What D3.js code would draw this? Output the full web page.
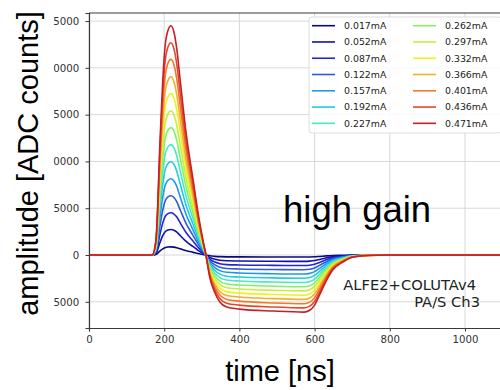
<!DOCTYPE html>
<html><head><meta charset="utf-8">
<script src="https://cdn.jsdelivr.net/npm/d3@7"></script>
<style>body{margin:0;background:#fff}svg{display:block}</style>
</head><body>
<svg id="c" width="500" height="390"></svg>
<script>
const timeNs = [0,160,168,178,189,196,202,210,218,226,233,243,259,277,290,303,311,321,335,348,366,400,490,572,587,600,613,632,648,675,700,740,790,1100];
const currents = ["0.017mA","0.052mA","0.087mA","0.122mA","0.157mA","0.192mA","0.227mA","0.262mA","0.297mA","0.332mA","0.366mA","0.401mA","0.436mA","0.471mA"];
const s017 = [0,0,0,57,437,657,786,853,870,845,786,657,454,284,160,57,0,-84,-144,-178,-197,-205,-213,-217,-210,-190,-152,-95,-57,-27,-9,-2,0,0];
const s052 = [0,0,0,177,1370,2061,2468,2675,2730,2651,2468,2061,1425,893,502,177,0,-262,-453,-560,-620,-644,-669,-680,-658,-595,-478,-298,-177,-85,-27,-5,0,0];
const s087 = [0,0,0,293,2264,3405,4077,4420,4510,4379,4077,3405,2354,1475,830,293,0,-433,-749,-925,-1024,-1064,-1105,-1123,-1087,-983,-789,-492,-293,-140,-45,-9,0,0];
const s122 = [0,0,0,411,3178,4779,5722,6203,6330,6146,5722,4779,3304,2070,1165,411,0,-608,-1051,-1298,-1437,-1494,-1551,-1576,-1526,-1380,-1108,-690,-411,-196,-63,-13,0,0];
const s157 = [0,0,0,530,4091,6153,7368,7987,8150,7914,7368,6153,4254,2665,1500,530,0,-782,-1353,-1671,-1850,-1923,-1997,-2029,-1964,-1777,-1426,-888,-530,-253,-82,-16,0,0];
const s192 = [0,0,0,648,5005,7527,9013,9771,9970,9681,9013,7527,5204,3260,1834,648,0,-957,-1655,-2044,-2263,-2353,-2443,-2483,-2403,-2173,-1745,-1087,-648,-309,-100,-20,0,0];
const s227 = [0,0,0,766,5919,8901,10658,11554,11790,11448,10658,8901,6154,3855,2169,766,0,-1132,-1957,-2417,-2676,-2782,-2889,-2936,-2841,-2570,-2063,-1285,-766,-365,-118,-24,0,0];
const s262 = [0,0,0,885,6832,10276,12303,13338,13610,13215,12303,10276,7104,4450,2504,885,0,-1307,-2259,-2790,-3089,-3212,-3334,-3389,-3280,-2967,-2382,-1483,-885,-422,-136,-27,0,0];
const s297 = [0,0,0,1001,7731,11627,13922,15092,15400,14953,13922,11627,8039,5036,2834,1001,0,-1478,-2556,-3157,-3496,-3634,-3773,-3835,-3711,-3357,-2695,-1679,-1001,-477,-154,-31,0,0];
const s332 = [0,0,0,1121,8660,13024,15594,16905,17250,16750,15594,13024,9005,5641,3174,1121,0,-1656,-2864,-3536,-3916,-4071,-4226,-4295,-4157,-3761,-3019,-1880,-1121,-535,-173,-35,0,0];
const s366 = [0,0,0,1238,9558,14375,17212,18659,19040,18488,17212,14375,9939,6226,3503,1238,0,-1828,-3161,-3903,-4322,-4493,-4665,-4741,-4589,-4151,-3332,-2075,-1238,-590,-190,-38,0,0];
const s401 = [0,0,0,1359,10492,15780,18894,20482,20900,20294,18894,15780,10910,6834,3846,1359,0,-2006,-3469,-4285,-4744,-4932,-5121,-5204,-5037,-4556,-3658,-2278,-1359,-648,-209,-42,0,0];
const s436 = [0,0,0,1474,11385,17123,20503,22226,22680,22022,20503,17123,11839,7416,4173,1474,0,-2177,-3765,-4649,-5148,-5352,-5557,-5647,-5466,-4944,-3969,-2472,-1474,-703,-227,-45,0,0];
const s471 = [0,0,0,1600,12300,18500,22150,24000,24500,23800,22150,18500,12800,8000,4500,1600,0,-2350,-4060,-5030,-5560,-5780,-5990,-6100,-5900,-5350,-4280,-2680,-1600,-750,-250,-50,0,0];
const seriesValues = [s017,s052,s087,s122,s157,s192,s227,s262,s297,s332,s366,s401,s436,s471];
const xTicks = [0,200,400,600,800,1000];
const yTicks = [-5000,0,5000,10000,15000,20000,25000];

const colors = ["#0a0a80","#1212aa","#2424d8","#2c5cd8","#2294ea","#22cae2","#44eac4","#84f064","#c2f040","#f0f020","#f0b030","#f27828","#e04828","#c81e28"];

const svg = d3.select("#c");
const L = 89, R = 502.6, T = 13, B = 328;
const x = d3.scaleLinear().domain([0,1100]).range([L,R]);
const y = d3.scaleLinear().domain([-7800,25860]).range([B,T]);

const defs = svg.append("defs");
defs.append("clipPath").attr("id","plot")
  .append("rect").attr("x",L).attr("y",T).attr("width",R-L).attr("height",B-T);
defs.append("clipPath").attr("id","ylab")
  .append("rect").attr("x",53.4).attr("y",0).attr("width",60).attr("height",390);

// grid
const grid = svg.append("g").attr("stroke","#d4d4d4").attr("stroke-width",0.9);
xTicks.forEach(t => grid.append("line").attr("x1",x(t)).attr("x2",x(t)).attr("y1",T).attr("y2",B));
yTicks.forEach(t => grid.append("line").attr("x1",L).attr("x2",R).attr("y1",y(t)).attr("y2",y(t)));

// lines
const line = d3.line().x((d,i)=>x(timeNs[i])).y(d=>y(d)).curve(d3.curveMonotoneX);
const lg = svg.append("g").attr("clip-path","url(#plot)");
seriesValues.forEach((vals,i)=>{
  lg.append("path").attr("d",line(vals)).attr("fill","none")
    .attr("stroke",colors[i]).attr("stroke-width",1.6).attr("stroke-linejoin","round");
});

// axes
const xAxis = svg.append("g").attr("transform",`translate(0,${B})`)
  .call(d3.axisBottom(x).tickValues(xTicks).tickSize(3.5).tickPadding(4.5).tickFormat(d3.format("d")));
const yWrap = svg.append("g").attr("clip-path","url(#ylab)");
const yAxis = yWrap.append("g").attr("transform",`translate(${L},0)`)
  .call(d3.axisLeft(y).tickValues(yTicks).tickSize(3.5).tickPadding(6.2).tickFormat(d=> d<0 ? "\u2212"+Math.abs(d) : String(d)));
[xAxis,yAxis].forEach(a=>{
  a.select(".domain").attr("stroke","#3a3a3a").attr("stroke-width",1.2);
  a.selectAll(".tick line").attr("stroke","#3a3a3a").attr("stroke-width",1);
  a.selectAll(".tick text").attr("fill","#333").attr("font-family","DejaVu Sans").attr("font-size",10.2);
});
// top spine
svg.append("line").attr("x1",L).attr("x2",R).attr("y1",T).attr("y2",T).attr("stroke","#3a3a3a").attr("stroke-width",1.2);

// legend
const leg = svg.append("g");
leg.append("rect").attr("x",309).attr("y",17).attr("width",192).attr("height",116).attr("rx",3)
  .attr("fill","#fff").attr("fill-opacity",0.85).attr("stroke","#dddddd").attr("stroke-width",1);
currents.forEach((c,i)=>{
  const col = Math.floor(i/7), row = i%7;
  const lx = col===0 ? 312 : 413;
  const ly = 25.7 + row*16.27;
  leg.append("line").attr("x1",lx).attr("x2",lx+23).attr("y1",ly).attr("y2",ly)
    .attr("stroke",colors[i]).attr("stroke-width",1.6);
  leg.append("text").attr("x",lx+32).attr("y",ly+3.4).text(c)
    .attr("font-family","DejaVu Sans").attr("font-size",9.4).attr("fill","#222");
});

// annotations
svg.append("text").attr("x",476).attr("y",290).attr("text-anchor","end")
  .attr("font-family","DejaVu Sans").attr("font-size",14.7).attr("fill","#222").text("ALFE2+COLUTAv4");
svg.append("text").attr("x",480).attr("y",306.7).attr("text-anchor","end")
  .attr("font-family","DejaVu Sans").attr("font-size",14.7).attr("fill","#222").text("PA/S Ch3");
svg.append("text").attr("x",283).attr("y",222)
  .attr("font-family","Liberation Sans").attr("font-size",36.5).attr("fill","#000").text("high gain");

// axis labels
svg.append("text").attr("x",280).attr("y",381).attr("text-anchor","middle")
  .attr("font-family","Liberation Sans").attr("font-size",29).attr("fill","#000").text("time [ns]");
svg.append("text").attr("transform","translate(37.5,163.5) rotate(-90)").attr("text-anchor","middle")
  .attr("font-family","Liberation Sans").attr("font-size",29).attr("fill","#000").text("amplitude [ADC counts]");
</script>
</body></html>
